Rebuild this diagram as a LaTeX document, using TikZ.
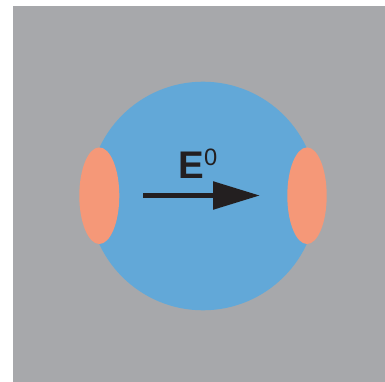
\documentclass[tikz,border=0pt]{standalone}
\usepackage{fontspec}
\setmainfont{Liberation Sans}
\usetikzlibrary{arrows.meta}
\definecolor{bggray}{HTML}{A7A8AB}
\definecolor{sphere}{HTML}{62A8D8}
\definecolor{charge}{HTML}{F59878}
\definecolor{ink}{HTML}{231F20}
\tikzset{
  lobe/.style={fill=charge, draw=none},
  field/.style={draw=ink, line width=5.5pt, -{Triangle[length=47pt,width=27pt]}, shorten >=0pt},
}
\begin{document}
\begin{tikzpicture}[x=1pt,y=-1pt]
\useasboundingbox (0,0) rectangle (385,382);
\fill[white] (0,0) rectangle (385,382);
\fill[bggray] (13,6) rectangle (385,382);
\fill[sphere] (203,196) circle[radius=114.3];
\fill[lobe] (99.3,195.7) ellipse[x radius=20,y radius=48.3];
\fill[lobe] (307,195.7) ellipse[x radius=19.7,y radius=48.3];
\coordinate (start) at (143,195.5);
\coordinate (tip) at (260,195.5);
\draw[field] (start) -- (tip);
\node[anchor=base west, inner sep=0pt, text=ink, font=\fontsize{38.5}{40}\selectfont\bfseries] (E) at (178.6,178.3) {E};
\node[anchor=base west, inner sep=0pt, text=ink, font=\fontsize{23.7}{25}\selectfont] (zero) at (204,166) {0};
\end{tikzpicture}
\end{document}
